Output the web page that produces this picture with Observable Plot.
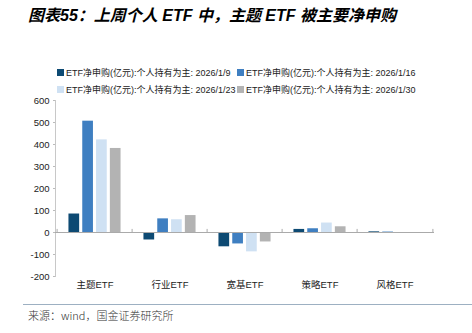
<!DOCTYPE html>
<html>
<head>
<meta charset="utf-8">
<script src="https://cdn.jsdelivr.net/npm/d3@7"></script>
<script src="https://cdn.jsdelivr.net/npm/@observablehq/plot@0.6"></script>
<style>
  html, body { margin: 0; padding: 0; background: #fff; }
  body { width: 472px; height: 333px; position: relative; overflow: hidden;
         font-family: "Liberation Sans", "Noto Sans CJK SC", sans-serif; }
  #title { position: absolute; left: 28px; top: 2px; font-size: 16px; font-weight: bold; font-style: italic;
           color: #000; font-family: "Liberation Sans", "Noto Sans CJK SC", sans-serif; white-space: nowrap; }
  #legend { position: absolute; left: 57px; top: 66px; display: grid; grid-template-columns: 180px 190px;
            row-gap: 5px; font-size: 9px; color: #222; }
  .item { display: flex; align-items: center; white-space: nowrap; height: 12px; }
  .sw { width: 7px; height: 7px; margin-right: 2px; flex: none; }
  #chart { position: absolute; left: 0; top: 0; }
  #rule { position: absolute; left: 23px; right: 0; top: 304px; height: 0; border-top: 1.5px solid #9db0c2; }
  #caption { position: absolute; left: 28px; top: 307px; font-size: 11px; color: #333; white-space: nowrap;
             font-family: "Noto Sans CJK SC", "DejaVu Sans Mono", monospace; font-weight: 300; }
</style>
</head>
<body>
<div id="title">图表55：上周个人 ETF 中，主题 ETF 被主要净申购</div>
<div id="legend"></div>
<div id="chart"></div>
<div id="rule"></div>
<div id="caption">来源：wind，国金证券研究所</div>
<script>
const categories = ["主题ETF", "行业ETF", "宽基ETF", "策略ETF", "风格ETF"];
const seriesPrefix = "ETF净申购(亿元):个人持有为主: ";
const dates = ["2026/1/9", "2026/1/16", "2026/1/23", "2026/1/30"];
const v0109 = [84, -34, -65, 14, 3];
const v0116 = [506, 62, -52, 17, 2];
const v0123 = [421, 58, -88, 43, -2];
const v0130 = [382, 77, -43, 26, -3];
const seriesValues = [v0109, v0116, v0123, v0130];
const colors = ["#0d4a73", "#3f7fc1", "#cfe1f3", "#b3b3b3"];
const yTicks = [-200, -100, 0, 100, 200, 300, 400, 500, 600];

// legend
const legend = document.getElementById("legend");
dates.forEach((d, i) => {
  const it = document.createElement("div");
  it.className = "item";
  it.innerHTML = `<span class="sw" style="background:${colors[i]}"></span><span>${seriesPrefix}${d}</span>`;
  legend.appendChild(it);
});

const W = 472, H = 333, ml = 55, mr = 38, mt = 100, mb = 57;
const bw = (W - ml - mr) / categories.length;
const sub = d3.scaleBand().domain(dates).range([0, bw]).paddingInner(0.167).paddingOuter(0.83);

const marks = [];
dates.forEach((d, i) => {
  const rows = categories.map((c, j) => ({category: c, value: seriesValues[i][j]}));
  const left = sub(d);
  marks.push(Plot.barY(rows, {
    x: "category", y: "value", fill: colors[i],
    insetLeft: left, insetRight: bw - left - sub.bandwidth()
  }));
});

const plot = Plot.plot({
  width: W, height: H,
  marginLeft: ml, marginRight: mr, marginTop: mt, marginBottom: mb,
  style: {fontFamily: "'Liberation Sans', 'Noto Sans CJK SC', sans-serif", fontSize: "9.5px", color: "#222", background: "transparent"},
  x: {domain: categories, padding: 0, label: null},
  y: {domain: [-200, 600], label: null},
  marks: [
    Plot.frame({anchor: "left", stroke: "#c8c8c8"}),
    Plot.axisY({ticks: yTicks, tickSize: 2, tickPadding: 4, stroke: "#bbb", fill: "#222", label: null, tickFormat: d => String(d)}),
    Plot.axisX({tickSize: 0, tickPadding: 5, fontSize: "9.5px", fill: "#222", label: null}),
    ...marks,
    Plot.ruleY([0], {stroke: "#aaa"}),
    Plot.ruleX(categories, {x: d => d, dx: -bw / 2, y1: 0, y2: 14, stroke: "#aaa"}),
    Plot.ruleX([categories[categories.length - 1]], {x: d => d, dx: bw / 2, y1: 0, y2: 14, stroke: "#aaa"})
  ]
});
document.getElementById("chart").appendChild(plot);
</script>
</body>
</html>
